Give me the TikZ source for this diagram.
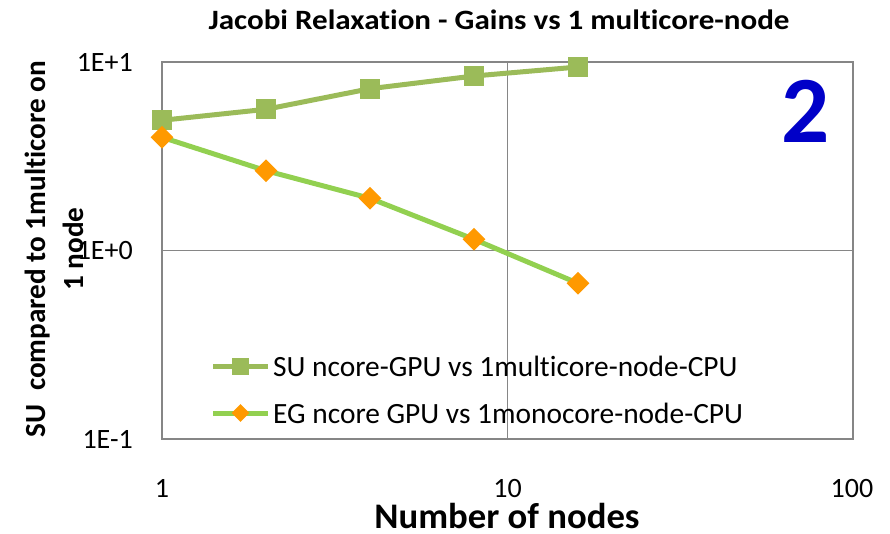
\documentclass[tikz,border=0pt]{standalone}
\usepackage{fontspec}
\setmainfont{Carlito}[Ligatures={NoCommon}]
\usetikzlibrary{shapes.geometric}
\definecolor{sugreen}{HTML}{9BBB59}
\definecolor{eggreen}{HTML}{92D050}
\definecolor{egorange}{HTML}{FF9900}
\definecolor{gridgray}{HTML}{868686}
\definecolor{bignum}{HTML}{0000C8}
\tikzset{
  gridline/.style={draw=gridgray, line width=1.6pt},
  suline/.style={draw=sugreen, line width=5pt},
  egline/.style={draw=eggreen, line width=5pt},
  sumark/.style={rectangle, fill=sugreen, minimum size=20pt, inner sep=0pt},
  egmark/.style={diamond, fill=egorange, minimum size=23pt, inner sep=0pt},
  sumarksmall/.style={rectangle, fill=sugreen, minimum size=17pt, inner sep=0pt},
  egmarksmall/.style={diamond, fill=egorange, minimum size=18pt, inner sep=0pt},
  ticklab/.style={font=\fontsize{28}{32}\selectfont, inner sep=0pt},
  legtext/.style={font=\fontsize{29.4}{34}\selectfont, anchor=west, inner sep=0pt},
}
\begin{document}
\begin{tikzpicture}[x=1pt, y=-1pt]
\useasboundingbox (0,0) rectangle (890,534);
% plot frame and grid
\coordinate (pTL) at (162,62);
\coordinate (pBR) at (853,439);
\coordinate (gxT) at (507.5,62);
\coordinate (gxB) at (507.5,439);
\coordinate (gyL) at (162,250.5);
\coordinate (gyR) at (853,250.5);
\draw[gridline] (gxT) -- (gxB);
\draw[gridline] (gyL) -- (gyR);
\draw[gridline] (pTL) rectangle (pBR);
% axis tick labels
\node[ticklab, anchor=east] (y1) at (133,62) {1E+1};
\node[ticklab, anchor=east] (y0) at (133,250.5) {1E+0};
\node[ticklab, anchor=east] (ym1) at (133,439) {1E-1};
\node[ticklab] (x1) at (162,488.5) {1};
\node[ticklab] (x10) at (507.5,488.5) {10};
\node[ticklab] (x100) at (852,488.5) {100};
% titles
\node[font=\fontsize{28}{32}\selectfont\bfseries, inner sep=0pt, anchor=base, xscale=1.11] (title) at (499,30) {Jacobi Relaxation - Gains vs 1 multicore-node};
\node[font=\fontsize{36}{40}\selectfont\bfseries, inner sep=0pt, anchor=base, xscale=1.02] (xtitle) at (507,528) {Number of nodes};
\node[font=\fontsize{29.2}{38}\selectfont\bfseries, rotate=90, align=center, inner sep=0pt] (ytitle) at (54,249) {SU\ \ compared to 1multicore on\\1 node};
\node[font=\fontsize{95}{100}\selectfont\bfseries, text=bignum, inner sep=0pt] (two) at (806,111) {2};
% data coordinates
\coordinate (s1) at (162,120.3);
\coordinate (s2) at (266,109.3);
\coordinate (s3) at (370,88.7);
\coordinate (s4) at (474,76);
\coordinate (s5) at (578,67);
\coordinate (e1) at (162,137.3);
\coordinate (e2) at (266,170.7);
\coordinate (e3) at (370,198.3);
\coordinate (e4) at (474,239.3);
\coordinate (e5) at (578,283.3);
\draw[suline] (s1) -- (s2) -- (s3) -- (s4) -- (s5);
\draw[egline] (e1) -- (e2) -- (e3) -- (e4) -- (e5);
\foreach \i in {1,...,5} {
  \node[sumark] (S\i) at (s\i) {};
}
\foreach \i in {1,...,5} {
  \node[egmark] (E\i) at (e\i) {};
}
% legend
\coordinate (la1) at (213,366);
\coordinate (lb1) at (268,366);
\coordinate (la2) at (213,413);
\coordinate (lb2) at (268,413);
\draw[suline] (la1) -- (lb1);
\node[sumarksmall] (lm1) at (240.5,366) {};
\draw[egline] (la2) -- (lb2);
\node[egmarksmall] (lm2) at (240.5,413) {};
\node[legtext] (lt1) at (273,366) {SU ncore-GPU vs 1multicore-node-CPU};
\node[legtext] (lt2) at (273,413) {EG ncore GPU vs 1monocore-node-CPU};
\end{tikzpicture}
\end{document}
